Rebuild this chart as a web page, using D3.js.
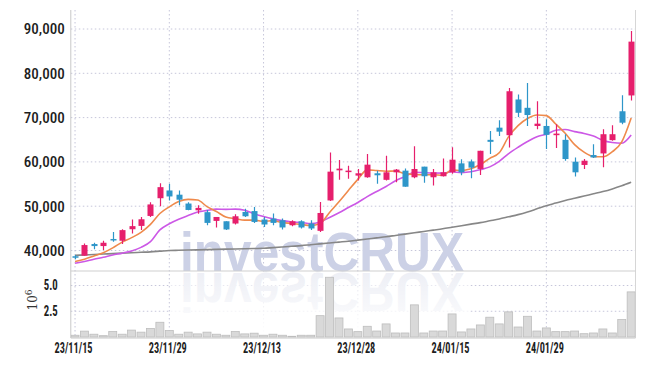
<!DOCTYPE html>
<html><head><meta charset="utf-8">
<script src="https://cdn.jsdelivr.net/npm/d3@7"></script>
<style>
html,body{margin:0;padding:0;background:#fff;}
svg{display:block;}
.tick text{font-family:"Roboto Condensed","Liberation Sans Narrow","DejaVu Sans Condensed",Roboto,sans-serif;fill:#1e1e1e;}
</style></head>
<body>
<svg id="chart" width="645" height="366"></svg>
<script>
// ---- data ----
const tickIdx = [0, 10, 20, 30, 40, 50];
const tickLabels = ["23/11/15", "23/11/29", "23/12/13", "23/12/28", "24/01/15", "24/01/29"];
const priceTicks = [40000, 50000, 60000, 70000, 80000, 90000];
const volTicks = [2.5, 5.0];

const open = [38700,38830,41460,41000,42600,42200,44800,45550,47800,51800,53550,52600,50600,49070,48650,46680,46600,46090,48700,48900,46990,47200,46830,45700,46600,46090,44440,51300,58100,57800,56910,56530,57430,55950,57650,58030,56530,58930,56530,56760,57650,59670,60110,58410,64980,67730,66030,74090,72210,68110,68110,66030,64980,60050,59310,61550,61910,64910,71430,75000];
const high = [39000,41600,41750,42200,44200,44800,47000,47570,50900,55200,55050,53550,50900,50200,49150,47570,46600,48180,49450,49800,47570,48330,47200,46830,46830,46830,50930,62130,60430,59150,58410,61770,58030,61390,58410,58500,63550,58930,58410,60780,63300,60600,60550,62510,66990,69390,76690,75210,77810,73710,69610,68490,66250,61010,60650,64010,67370,68270,75060,89550];
const low = [38000,38800,40270,40100,42000,41450,43850,44600,47570,49970,51300,50200,49100,48300,45680,45200,44600,45870,47570,46230,45330,45700,44750,45500,44970,44600,44200,51150,55950,56170,55800,56400,55050,55800,55400,54400,56300,55280,54670,56690,57300,57000,56300,57060,61770,65870,63250,70130,68110,67370,62890,63120,60270,56690,58410,60880,58770,64760,68490,73870];
const close = [38500,41230,41000,41750,42400,44600,45500,47050,50400,54300,52200,51470,49150,49620,46230,47570,44750,47730,47730,46450,45870,46230,45200,46600,45200,44970,48470,57800,58480,58030,57430,59380,56980,57650,58260,54400,58400,56760,57650,57650,60500,57650,58700,62510,64530,66830,75950,71090,70580,68630,66100,66390,60650,57650,60270,61010,66250,66250,68850,87150];
// volume in millions (10^6)
const volume = [0.17,0.57,0.27,0.13,0.53,0.27,0.67,0.47,0.83,1.43,0.63,0.27,0.47,0.3,0.47,0.27,0.17,0.53,0.3,0.37,0.17,0.27,0.17,0.07,0.17,0.17,2.07,5.8,1.85,0.78,0.52,1.04,0.58,1.27,0.39,0.39,3.12,0.39,0.58,0.58,2.24,0.49,0.78,1.17,1.92,1.27,2.44,0.97,2.01,0.58,0.88,0.52,0.52,0.58,0.32,0.39,0.78,0.39,1.69,4.38];
// moving-average lines as drawn
const maShort = [37500,38030,38770,39510,40600,41900,42900,44100,45900,48350,49850,51050,51550,51400,49900,48800,47550,47180,46850,46850,46550,46750,46300,46100,45850,45650,46100,48600,51000,53550,56050,58200,58050,57900,57950,57350,57150,57100,57100,57000,58200,58050,58450,59400,60800,62050,65700,68200,69800,70600,70450,68550,66450,63900,62200,61200,61150,62300,64500,69900];
const maMid = [37130,37500,38030,38480,39000,39400,39900,40700,42000,44650,46050,47070,47900,48670,49060,49350,49280,49350,49080,48300,47660,47140,46740,46440,46330,46070,46450,47450,48530,49690,50840,52160,53330,54440,55750,56690,57680,57580,57490,57460,57760,57590,57760,58250,58880,60120,61870,63310,64600,65700,66260,67130,67330,66840,66410,65830,64860,64380,64210,66060];
const maLong = [38900,39000,39100,39200,39300,39400,39500,39600,39700,39850,40000,40050,40100,40150,40200,40250,40300,40350,40400,40450,40500,40650,40800,40950,41100,41300,41500,41700,41900,42100,42350,42600,42850,43100,43400,43700,44000,44300,44600,44900,45250,45600,45950,46300,46700,47100,47600,48100,48700,49400,50100,50700,51300,51800,52300,52800,53300,53900,54600,55400];

// ---- layout ----
const left = 70.8, right = 635.5;
const pTop = 10, pBot = 271, vTop = 272, vBot = 338;
const upColor = "#e61f6c", downColor = "#2e96c9";

const svg = d3.select("#chart");
const idx = d3.range(close.length);

const x = d3.scaleLinear().domain([-0.45, 59.46]).range([left, right]);
const yP = d3.scaleLinear().domain([40000, 90000]).range([250.5, 29]);
const yV = d3.scaleLinear().domain([0, 5]).range([337, 285.5]);

// clip paths
const defs = svg.append("defs");
defs.append("clipPath").attr("id", "clipP").append("rect")
  .attr("x", left).attr("y", pTop).attr("width", right - left).attr("height", pBot - pTop);
defs.append("clipPath").attr("id", "clipV").append("rect")
  .attr("x", left).attr("y", vTop).attr("width", right - left).attr("height", vBot - vTop);
const grad = defs.append("linearGradient").attr("id", "fade").attr("x1", 0).attr("y1", 0).attr("x2", 0).attr("y2", 1);
grad.append("stop").attr("offset", "0%").attr("stop-color", "#fff").attr("stop-opacity", 0.5);
grad.append("stop").attr("offset", "100%").attr("stop-color", "#fff").attr("stop-opacity", 1);

// grid
const gridColor = "#c6c6da";
const grid = svg.append("g");
grid.selectAll(".hp").data(priceTicks).join("line")
  .attr("x1", left).attr("x2", right).attr("y1", d => yP(d)).attr("y2", d => yP(d))
  .attr("stroke", gridColor).attr("stroke-dasharray", "1.5,2.5");
grid.selectAll(".hv").data(volTicks).join("line")
  .attr("x1", left).attr("x2", right).attr("y1", d => yV(d)).attr("y2", d => yV(d))
  .attr("stroke", gridColor).attr("stroke-dasharray", "1.5,2.5");
grid.selectAll(".vx").data(tickIdx).join("line")
  .attr("x1", d => x(d)).attr("x2", d => x(d)).attr("y1", pTop).attr("y2", vBot)
  .attr("stroke", gridColor).attr("stroke-dasharray", "1.5,2.5");

// watermark (with mirrored reflection in the volume pane)
const wm = svg.append("g");
wm.append("text").attr("x", 180).attr("y", 271)
  .attr("textLength", 284).attr("lengthAdjust", "spacingAndGlyphs")
  .style("font-family", "'Liberation Sans',Arial,sans-serif").style("font-weight", "bold")
  .style("font-size", "56px").attr("fill", "#ccd1e6").text("investCRUX");
const refl = wm.append("g").attr("clip-path", "url(#clipV)");
refl.append("text").attr("x", 180).attr("y", 271)
  .attr("transform", "translate(0,544) scale(1,-1)")
  .attr("textLength", 284).attr("lengthAdjust", "spacingAndGlyphs")
  .style("font-family", "'Liberation Sans',Arial,sans-serif").style("font-weight", "bold")
  .style("font-size", "56px").attr("fill", "#dcdfec").text("investCRUX");
refl.append("rect").attr("x", 170).attr("y", 272).attr("width", 300).attr("height", 66).attr("fill", "url(#fade)");

// frame
svg.append("line").attr("x1", left).attr("x2", left).attr("y1", pTop).attr("y2", vBot).attr("stroke", "#c8c8c8");
svg.append("line").attr("x1", right).attr("x2", right).attr("y1", pTop).attr("y2", vBot).attr("stroke", "#d6d6d6");
svg.append("line").attr("x1", left).attr("x2", right).attr("y1", pBot).attr("y2", pBot).attr("stroke", "#cfcfcf");
svg.append("line").attr("x1", left).attr("x2", right).attr("y1", vBot).attr("y2", vBot).attr("stroke", "#c8c8c8");

// volume bars
const bw = 9.0;
svg.append("g").attr("clip-path", "url(#clipV)").selectAll("rect").data(idx).join("rect")
  .attr("x", i => x(i) - bw / 2 + 0.5).attr("width", bw - 1)
  .attr("y", i => yV(volume[i])).attr("height", i => yV(0) - yV(volume[i]))
  .attr("fill", "#d9d9d9").attr("stroke", "#bdbdbd").attr("stroke-width", 0.8);

// MA lines
const plotP = svg.append("g").attr("clip-path", "url(#clipP)");
function maLine(arr, color, w) {
  plotP.append("path").datum(idx)
    .attr("d", d3.line().x(i => x(i)).y(i => yP(arr[i])).curve(d3.curveMonotoneX))
    .attr("fill", "none").attr("stroke", color).attr("stroke-width", w);
}
maLine(maLong, "#878787", 1.6);
maLine(maMid, "#cc58e6", 1.6);
maLine(maShort, "#ef8a4c", 1.6);

// candles
const cw = 6;
const cg = plotP.append("g");
cg.selectAll("line").data(idx).join("line")
  .attr("x1", i => Math.round(x(i)) + 0.5).attr("x2", i => Math.round(x(i)) + 0.5)
  .attr("y1", i => yP(high[i])).attr("y2", i => yP(low[i]))
  .attr("stroke", i => close[i] >= open[i] ? upColor : downColor).attr("stroke-width", 1.2);
cg.selectAll("rect").data(idx).join("rect")
  .attr("x", i => Math.round(x(i)) + 0.5 - cw / 2).attr("width", cw)
  .attr("y", i => yP(Math.max(open[i], close[i])))
  .attr("height", i => Math.max(1.5, Math.abs(yP(open[i]) - yP(close[i]))))
  .attr("fill", i => close[i] >= open[i] ? upColor : downColor);

// axes
const ax1 = svg.append("g").attr("transform", `translate(${left},0)`)
  .call(d3.axisLeft(yP).tickValues(priceTicks).tickFormat(d3.format(",")).tickSize(0).tickPadding(6));
ax1.select(".domain").remove();
ax1.selectAll("text").style("font-size", "15px").style("font-weight", "500")
  .attr("textLength", 41).attr("lengthAdjust", "spacingAndGlyphs");

const ax2 = svg.append("g").attr("transform", `translate(${left},0)`)
  .call(d3.axisLeft(yV).tickValues(volTicks).tickFormat(d3.format(".1f")).tickSize(0).tickPadding(13));
ax2.select(".domain").remove();
ax2.selectAll("text").style("font-size", "14px").style("font-weight", "bold")
  .attr("textLength", 14).attr("lengthAdjust", "spacingAndGlyphs");

const ax3 = svg.append("g").attr("transform", `translate(0,${vBot})`)
  .call(d3.axisBottom(x).tickValues(tickIdx).tickFormat((d, i) => tickLabels[i]).tickSize(0).tickPadding(5));
ax3.select(".domain").remove();
ax3.selectAll("text").style("font-size", "14.5px").style("font-weight", "bold").attr("dx", "-2")
  .attr("textLength", 38).attr("lengthAdjust", "spacingAndGlyphs");

// exponent label
const ex = svg.append("text").attr("transform", "translate(37,300) rotate(-90)")
  .attr("text-anchor", "middle")
  .style("font-family", "'DejaVu Serif',serif").style("font-size", "12px").attr("fill", "#333");
ex.append("tspan").text("10");
ex.append("tspan").attr("dy", "-5").style("font-size", "9px").text("6");
</script>
</body></html>
